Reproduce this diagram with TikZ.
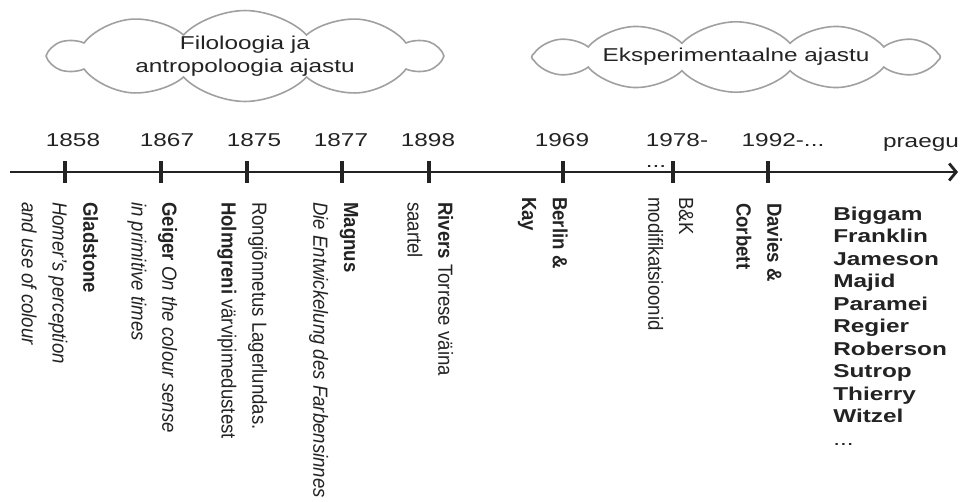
\documentclass[tikz,border=0pt]{standalone}
\usepackage{fontspec}
\setmainfont{Liberation Sans}
\usetikzlibrary{arrows.meta,shapes.symbols}
\definecolor{ink}{RGB}{35,35,35}
\definecolor{haze}{RGB}{160,160,160}
\tikzset{
  era/.style={cloud,cloud puffs=10,cloud puff arc=110,draw=haze,line width=1.6pt,
    xscale=1.31,inner sep=0pt,align=center,text=ink,
    font=\fontsize{18.6}{23}\selectfont},
  year/.style={xscale=1.31,anchor=north,inner sep=0pt,align=left,text=ink,
    font=\fontsize{18.6}{21}\selectfont},
  vnote/.style={xscale=1.1,rotate=-90,anchor=north west,inner sep=0pt,align=left,
    text=ink,font=\fontsize{18.6}{28}\selectfont},
  namelist/.style={xscale=1.31,anchor=north west,inner sep=0pt,align=left,text=ink,
    font=\fontsize{18.6}{22.5}\selectfont\bfseries},
  yeartick/.style={line width=3.4pt,draw=ink},
  axis/.style={line width=2.8pt,draw=ink,
    -{Straight Barb[length=7pt,width=17pt,line width=2.8pt]}}
}
\begin{document}
\begin{tikzpicture}[x=1pt,y=-1pt]
  \useasboundingbox (0,0) rectangle (961,501);
  % eras
  \node[era,aspect=5.4,inner ysep=-2.5pt,minimum width=296,minimum height=64] (era1) at (245,56) {Filoloogia ja\\antropoloogia ajastu};
  \node[era,cloud puffs=12,aspect=8.8,minimum width=312,minimum height=56] (era2) at (736,57) {Eksperimentaalne ajastu};
  % time axis
  \coordinate (ax0) at (10,172);
  \coordinate (ax1) at (958,172);
  \draw[axis] (ax0) -- (ax1);
  \foreach \x/\yr/\lx/\txt in {65/1858/73/1858,161/1867/167/1867,247/1875/254/1875,
      342/1877/341/1877,429/1898/428/1898,563/1969/562/1969,
      673/1978/677/{1978-\\...},768/1992/783/{1992-...}} {
    \coordinate (t\yr) at (\x,172);
    \draw[yeartick] (t\yr) ++(0,-11) -- ++(0,22);
    \node[year] (y\yr) at (\lx,133.7) {\txt};
  }
  \node[year,anchor=base] (ynow) at (921,147) {praegu};
  % works
  \node[vnote] (n1858) at (98.5,202) {\textbf{Gladstone}\\\textit{Homer's perception}\\\textit{and use of colour}};
  \node[vnote] (n1867) at (177.5,202) {\textbf{Geiger} \textit{On the colour sense}\\\textit{in primitive times}};
  \node[vnote] (n1875) at (267.5,202) {Rongiõnnetus Lagerlundas.\\\textbf{Holmgreni} värvipimedustest};
  \node[vnote] (n1877) at (358.5,202) {\textbf{Magnus}\\\textit{Die Entwickelung des Farbensinnes}};
  \node[vnote] (n1898) at (453.5,202) {\textbf{Rivers} Torrese väina\\saartel};
  \node[vnote] (n1969) at (568,197) {\textbf{Berlin \&}\\\textbf{Kay}};
  \node[vnote] (n1978) at (693.5,197) {B\&K\\modifikatsioonid};
  \node[vnote] (n1992) at (782.5,203) {\textbf{Davies \&}\\\textbf{Corbett}};
  \node[namelist] (names) at (833,206.5) {Biggam\\Franklin\\Jameson\\Majid\\Paramei\\Regier\\Roberson\\Sutrop\\Thierry\\Witzel\\\textmd{...}};
\end{tikzpicture}
\end{document}
